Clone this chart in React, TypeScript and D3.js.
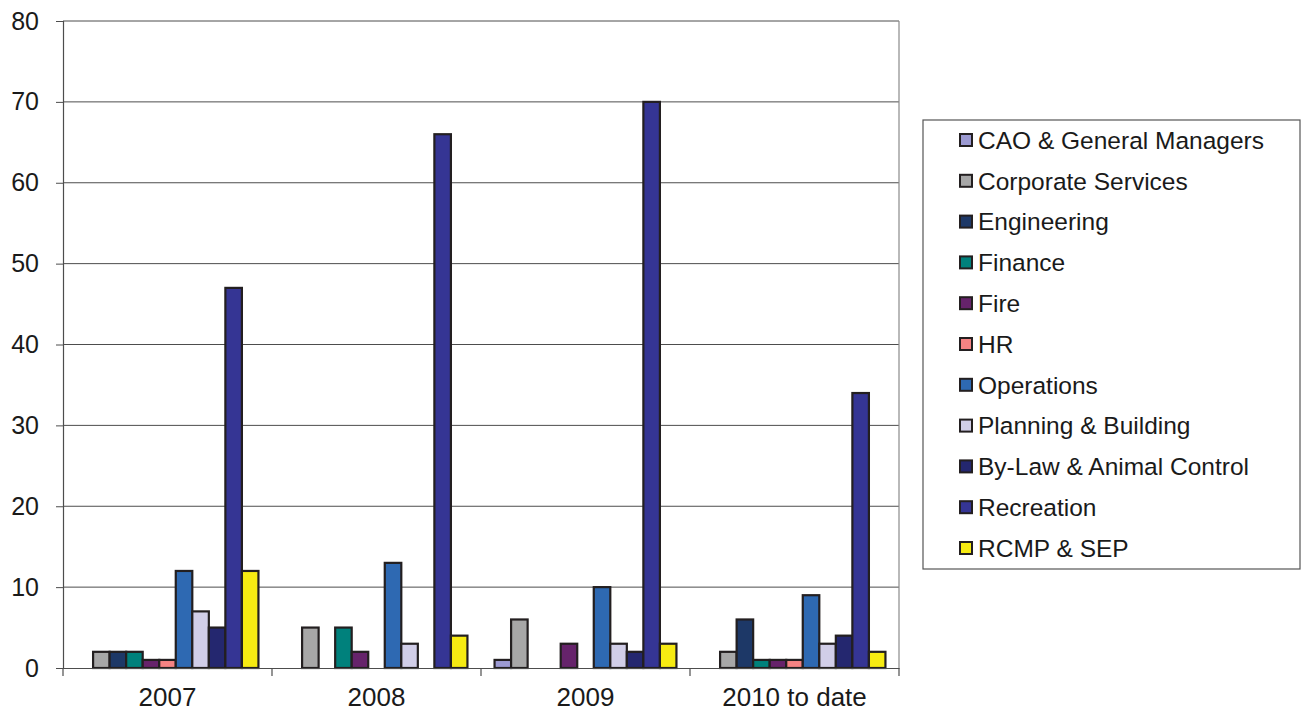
import { useEffect, useRef } from 'react';
import * as d3 from 'd3';

const categories = ['2007', '2008', '2009', '2010 to date'];

const seriesNames = [
  'CAO & General Managers',
  'Corporate Services',
  'Engineering',
  'Finance',
  'Fire',
  'HR',
  'Operations',
  'Planning & Building',
  'By-Law & Animal Control',
  'Recreation',
  'RCMP & SEP',
];

const seriesColors = [
  '#9c9ad2', '#a7a7a7', '#1d3867', '#00817c', '#66236b', '#f58383',
  '#2e69b2', '#d1cee8', '#24276f', '#353594', '#f7eb12',
];

// one row per series, values for 2007, 2008, 2009, 2010 to date
const cao = [0, 0, 1, 0];
const corporate = [2, 5, 6, 2];
const engineering = [2, 0, 0, 6];
const finance = [2, 5, 0, 1];
const fire = [1, 2, 3, 1];
const hr = [1, 0, 0, 1];
const operations = [12, 13, 10, 9];
const planning = [7, 3, 3, 3];
const bylaw = [5, 0, 2, 4];
const recreation = [47, 66, 70, 34];
const rcmp = [12, 4, 3, 2];

const seriesValues = [cao, corporate, engineering, finance, fire, hr, operations, planning, bylaw, recreation, rcmp];

const yTicks = [0, 10, 20, 30, 40, 50, 60, 70, 80];

export default function App() {
  const svgRef = useRef<SVGSVGElement>(null);
  const width = 1307;
  const height = 719;

  useEffect(() => {
    if (!svgRef.current) return;
    const svg = d3.select(svgRef.current);
    svg.selectAll('*').remove();

    const left = 63, right = 899, top = 21, bottom = 668;
    const font = 'Liberation Sans, Arial, sans-serif';

    const x0 = d3.scaleBand().domain(categories).range([left, right]);
    const x1 = d3.scaleBand()
      .domain(seriesNames)
      .range([0, x0.bandwidth()])
      .paddingOuter(0.82);
    const y = d3.scaleLinear().domain([0, 80]).range([bottom, top]);

    // gridlines
    svg.append('g')
      .selectAll('line')
      .data(yTicks.filter(t => t > 0))
      .enter().append('line')
      .attr('x1', left).attr('x2', right)
      .attr('y1', d => y(d)).attr('y2', d => y(d))
      .attr('stroke', '#4d4d4d').attr('stroke-width', 1);

    // right border
    svg.append('line')
      .attr('x1', right).attr('x2', right).attr('y1', top).attr('y2', bottom)
      .attr('stroke', '#8a8a8a').attr('stroke-width', 1.2);

    // bars
    seriesNames.forEach((name, si) => {
      svg.append('g')
        .selectAll('rect')
        .data(seriesValues[si].map((v, ci) => ({ cat: categories[ci], v })))
        .enter().filter(d => d.v > 0)
        .append('rect')
        .attr('x', d => (x0(d.cat) || 0) + (x1(name) || 0))
        .attr('y', d => y(d.v))
        .attr('width', x1.bandwidth())
        .attr('height', d => bottom - y(d.v))
        .attr('fill', seriesColors[si])
        .attr('stroke', '#231f20')
        .attr('stroke-width', 2.2);
    });

    // y axis
    const yAxis = svg.append('g')
      .attr('transform', `translate(${left},0)`)
      .call(d3.axisLeft(y).tickValues(yTicks).tickSize(7).tickPadding(17));
    yAxis.select('.domain').attr('stroke', '#4d4d4d').attr('stroke-width', 1.2);
    yAxis.selectAll('.tick line').attr('stroke', '#4d4d4d');
    yAxis.selectAll('text')
      .attr('font-family', font).attr('font-size', 25).attr('fill', '#1a1a1a');

    // x axis
    const xAxis = svg.append('g')
      .attr('transform', `translate(0,${bottom})`)
      .call(d3.axisBottom(x0).tickSize(0).tickPadding(20));
    xAxis.select('.domain').attr('stroke', '#4d4d4d').attr('stroke-width', 1.2);
    xAxis.selectAll('text')
      .attr('font-family', font).attr('font-size', 26).attr('fill', '#1a1a1a');
    svg.append('g')
      .selectAll('line')
      .data(categories.map(c => x0(c) || 0).concat([right]))
      .enter().append('line')
      .attr('x1', d => d).attr('x2', d => d)
      .attr('y1', bottom).attr('y2', bottom + 8)
      .attr('stroke', '#4d4d4d').attr('stroke-width', 1.2);

    // legend
    const lg = svg.append('g');
    lg.append('rect')
      .attr('x', 923).attr('y', 120).attr('width', 377).attr('height', 449)
      .attr('fill', 'white').attr('stroke', '#555').attr('stroke-width', 1.2);
    const rowY = d3.scalePoint().domain(seriesNames).range([140, 548]);
    seriesNames.forEach((name, i) => {
      const cy = rowY(name) || 0;
      lg.append('rect')
        .attr('x', 960).attr('y', cy - 6).attr('width', 12).attr('height', 12)
        .attr('fill', seriesColors[i]).attr('stroke', '#231f20').attr('stroke-width', 2);
      lg.append('text')
        .attr('x', 978).attr('y', cy).attr('dy', '0.36em')
        .attr('font-family', font).attr('font-size', 24.5).attr('fill', '#1a1a1a')
        .text(name);
    });
  }, []);

  return (
    <svg
      ref={svgRef}
      width={width}
      height={height}
      style={{ position: 'absolute', left: 0, top: 0, background: 'white' }}
    />
  );
}
